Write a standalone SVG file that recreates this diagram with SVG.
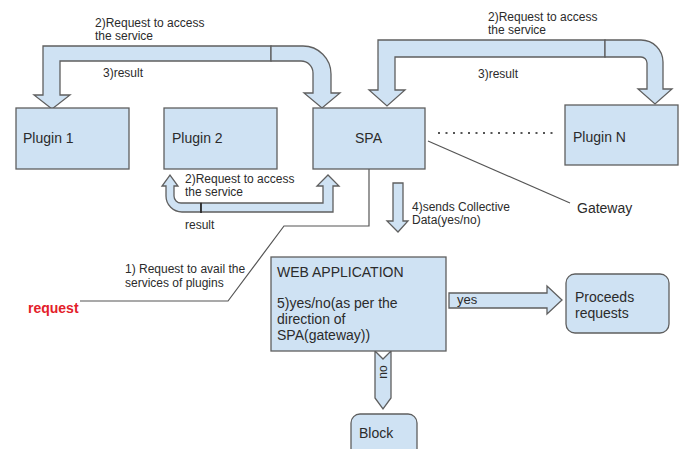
<svg xmlns="http://www.w3.org/2000/svg" width="684" height="449" viewBox="0 0 684 449">
<style>
.box{fill:#cfe2f3;stroke:#5f5f5f;stroke-width:1.3}
.arr{fill:#cfe2f3;stroke:#5f5f5f;stroke-width:1.3;stroke-linejoin:miter}
.ln{fill:none;stroke:#555;stroke-width:1.2}
text{font-family:"Liberation Sans",Arial,sans-serif;fill:#2b2b2b}
.t14{font-size:14px}
.t12{font-size:12px}
.t13{font-size:13px}
</style>
<rect width="684" height="449" fill="#fff"/>
<g id="connectors">
  <!-- top-left bent arrows -->
  <path class="arr" d="M271,46 L43,46 L43,95 L34,95 L52,109 L70,95 L60,95 L60,61 L271,61 Z"/>
  <path class="arr" d="M271,46 L303,46 A28,28 0 0 1 331,74 L331,93 L340,93 L322,108 L304,93 L313,93 L313,73 A12,12 0 0 0 301,61 L271,61 Z"/>
  <!-- top-right bent arrows -->
  <path class="arr" d="M605,40 L378,40 L378,90 L369,90 L387,106 L405,90 L395,90 L395,57 L605,57 Z"/>
  <path class="arr" d="M605,40 L641,40 A22,22 0 0 1 663,62 L663,89 L672,89 L655,104 L638,89 L647,89 L647,63 A6,6 0 0 0 641,57 L605,57 Z"/>
  <!-- plugin 2 U arrow -->
  <path class="arr" d="M201,203 L181,203 A7,7 0 0 1 174,196 L174,186 L178,186 L170,175 L162,186 L166,186 L166,196 A16,16 0 0 0 182,212 L201,212 Z"/>
  <path class="arr" d="M201,203 L323,203 L323,186 L317,186 L328,175 L339,186 L333,186 L333,212 L201,212 Z"/>
  <line x1="201" y1="203" x2="201" y2="213" stroke="#222" stroke-width="1.5"/>
  <!-- dotted line SPA .. Plugin N -->
  <line x1="438" y1="133" x2="558" y2="133" stroke="#555" stroke-width="2" stroke-dasharray="2,5.5"/>
  <!-- gateway line -->
  <line class="ln" x1="428" y1="141" x2="570" y2="203"/>
  <!-- 4) down arrow -->
  <path class="arr" d="M393,183 L403,183 L403,221 L408,221 L398,232 L387,221 L393,221 Z"/>
  <!-- request line -->
  <polyline class="ln" points="369,169 369,226 284,226 228,301 80,301"/>
  <!-- yes arrow -->
  <path class="arr" d="M449,293 L547,293 L547,286 L562,300 L547,314 L547,308 L449,308 Z"/>
  <!-- no chevron -->
  <path class="arr" d="M375,351 L383,359 L391,351 L391,398 L383,409 L375,398 Z"/>
</g>
<g id="plugin1">
  <rect class="box" x="16" y="108" width="113" height="61"/>
  <text class="t14" x="23" y="143">Plugin 1</text>
</g>
<g id="plugin2">
  <rect class="box" x="164" y="108" width="113" height="61"/>
  <text class="t14" x="172" y="143">Plugin 2</text>
</g>
<g id="spa">
  <rect class="box" x="313" y="108" width="112" height="61"/>
  <text class="t14" x="355" y="143">SPA</text>
</g>
<g id="pluginN">
  <rect class="box" x="565" y="105" width="113" height="60"/>
  <text class="t14" x="573" y="142">Plugin N</text>
</g>
<g id="webapp">
  <rect class="box" x="271" y="257" width="175" height="94"/>
  <text class="t14" x="277" y="277">WEB APPLICATION</text>
  <text class="t14" x="277" y="308">5)yes/no(as per the</text>
  <text class="t14" x="277" y="324">direction of</text>
  <text class="t14" x="277" y="340">SPA(gateway))</text>
</g>
<g id="proceeds">
  <rect class="box" x="566" y="274" width="103" height="59" rx="9"/>
  <text class="t14" x="575" y="302">Proceeds</text>
  <text class="t14" x="575" y="318">requests</text>
</g>
<g id="block">
  <rect class="box" x="351" y="414" width="66" height="50" rx="9"/>
  <text class="t14" x="359" y="438">Block</text>
</g>
<g id="labels">
  <text class="t12" x="95" y="27">2)Request to access</text>
  <text class="t12" x="95" y="40">the service</text>
  <text class="t12" x="103" y="77">3)result</text>
  <text class="t12" x="488" y="21">2)Request to access</text>
  <text class="t12" x="488" y="34">the service</text>
  <text class="t12" x="478" y="78">3)result</text>
  <text class="t12" x="185" y="183">2)Request to access</text>
  <text class="t12" x="185" y="196">the service</text>
  <text class="t12" x="185" y="229">result</text>
  <text class="t12" x="412" y="211">4)sends Collective</text>
  <text class="t12" x="412" y="224">Data(yes/no)</text>
  <text class="t14" x="577" y="213">Gateway</text>
  <text class="t12" x="125" y="273">1) Request to avail the</text>
  <text class="t12" x="125" y="287">services of plugins</text>
  <text x="28" y="313" style="font-size:14px;font-weight:bold;fill:#e3202a">request</text>
  <text class="t13" x="457" y="304">yes</text>
  <text class="t12" x="0" y="0" text-anchor="middle" transform="translate(387,372) rotate(-90)">no</text>
</g>
</svg>
